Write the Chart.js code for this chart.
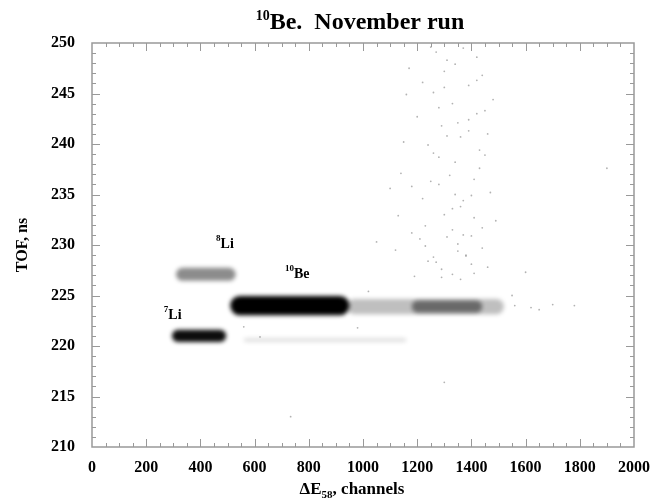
<!DOCTYPE html>
<html>
<head>
<meta charset="utf-8">
<script src="https://cdn.jsdelivr.net/npm/chart.js@4"></script>
<style>
  html, body { margin: 0; background: #fff; }
  #wrap { width: 653px; height: 502px; }
</style>
</head>
<body>
<div id="wrap"><canvas id="tof"></canvas></div>
<script>
/* TOF vs ΔE58 identification spectrum, 10Be November run. */

// axis ranges and ticks
const X_MIN = 0, X_MAX = 2000, X_STEP = 200, X_MINOR = 50;
const Y_MIN = 210, Y_MAX = 250, Y_STEP = 5, Y_MINOR = 1;

// dense groups: centre (channels, ns), half extent, darkness
const groupNames = ['7Li', '7Li tail', '8Li', '10Be', '10Be tail', '10Be tail core'];
const groupX     = [395, 860, 420, 730, 1230, 1310];
const groupY     = [221.0, 220.6, 227.1, 224.0, 223.9, 223.9];
const groupHalfX = [100, 300, 110, 220, 290, 130];
const groupHalfY = [0.6, 0.2, 0.65, 0.95, 0.75, 0.6];
const groupDark  = [0.95, 0.12, 0.45, 1.0, 0.25, 0.45];

// isolated events (channels, ns)
const eventX = [1120, 1180, 1240, 1300, 1350, 1410, 1460, 1150, 1220, 1280, 1330, 1390, 1440, 1490,
                1170, 1260, 1320, 1380, 1430, 1200, 1290, 1360, 1420, 1470, 1140, 1230, 1310, 1400,
                1450, 1190, 1270, 1340, 1410, 1160, 1250, 1330, 1390, 1460, 1210, 1300, 1370, 1440,
                1130, 1240, 1350, 1430, 1180, 1280, 1400, 1310, 1220, 1360, 1480, 1260, 1340,
                1560, 1620, 1700, 1650, 1780, 1900, 1100, 1050, 980, 1020, 733, 1300, 560, 620, 1550, 1600,
                1370, 1420, 1290, 1250, 1450, 1330, 1270, 1350, 1410, 1310, 1380, 1230, 1440, 1290,
                1330, 1400, 1260, 1360, 1420, 1300, 1340, 1390, 1280, 1370];
const eventY = [229.5, 231.2, 228.4, 233.0, 230.1, 236.5, 227.8, 240.2, 234.6, 238.7, 244.0, 241.3, 246.8, 232.4,
                247.5, 245.1, 236.9, 229.0, 239.4, 242.7, 227.6, 233.8, 248.6, 235.2, 237.1, 231.9, 240.8, 228.1,
                243.3, 226.9, 249.1, 238.2, 232.7, 244.9, 236.3, 227.1, 245.8, 241.0, 230.6, 247.2, 234.4, 229.7,
                232.9, 239.9, 242.1, 237.6, 235.8, 243.6, 230.9, 248.3, 246.1, 226.6, 244.4, 228.8, 235.0,
                224.0, 223.8, 224.1, 223.6, 224.0, 237.6, 235.6, 230.3, 221.8, 225.4, 213.0, 216.4, 221.9, 220.9, 225.0, 227.3,
                249.5, 246.3, 241.8, 249.6, 238.9, 231.5, 228.3, 229.4, 227.2, 230.8, 228.9, 229.9, 231.7, 226.8,
                233.6, 234.9, 239.1, 240.7, 243.0, 245.6, 247.9, 242.4, 236.0, 231.0];

// species labels: mass number, symbol, anchor (channels, ns)
const tagMass = ['8', '10', '7'];
const tagName = ['Li', 'Be', 'Li'];
const tagX    = [458, 712, 265];
const tagY    = [229.7, 226.7, 222.7];

const SERIF = '"Liberation Serif", "Times New Roman", serif';
const FRAME = '#999';

const events = eventX.map((x, i) => ({ x, y: eventY[i] }));

/* blurred capsules for the dense groups, in data space */
const groupPlugin = {
  id: 'groups',
  beforeDatasetsDraw(chart) {
    const { ctx, chartArea, scales } = chart;
    ctx.save();
    ctx.beginPath();
    ctx.rect(chartArea.left, chartArea.top, chartArea.width, chartArea.height);
    ctx.clip();
    groupNames.forEach((_, i) => {
      const x0 = scales.x.getPixelForValue(groupX[i] - groupHalfX[i]);
      const x1 = scales.x.getPixelForValue(groupX[i] + groupHalfX[i]);
      const y0 = scales.y.getPixelForValue(groupY[i] + groupHalfY[i]);
      const y1 = scales.y.getPixelForValue(groupY[i] - groupHalfY[i]);
      const h = y1 - y0;
      ctx.filter = 'blur(2px)';
      ctx.fillStyle = `rgba(0,0,0,${groupDark[i]})`;
      ctx.beginPath();
      ctx.roundRect(x0, y0, x1 - x0, h, h / 2);
      ctx.fill();
    });
    ctx.restore();
  },
};

/* grey frame with inward major/minor ticks on all four sides */
const framePlugin = {
  id: 'frame',
  afterDatasetsDraw(chart) {
    const { ctx, chartArea: a, scales } = chart;
    ctx.save();
    ctx.strokeStyle = FRAME;
    ctx.lineWidth = 1.5;
    ctx.strokeRect(a.left, a.top, a.width, a.height);
    ctx.lineWidth = 1;
    ctx.beginPath();
    for (let v = X_MIN + X_MINOR; v < X_MAX; v += X_MINOR) {
      const x = Math.round(scales.x.getPixelForValue(v)) + 0.5;
      const len = v % X_STEP === 0 ? 8 : 4;
      ctx.moveTo(x, a.bottom); ctx.lineTo(x, a.bottom - len);
      ctx.moveTo(x, a.top); ctx.lineTo(x, a.top + len);
    }
    for (let v = Y_MIN + Y_MINOR; v < Y_MAX; v += Y_MINOR) {
      const y = Math.round(scales.y.getPixelForValue(v)) + 0.5;
      const len = v % Y_STEP === 0 ? 8 : 4;
      ctx.moveTo(a.left, y); ctx.lineTo(a.left + len, y);
      ctx.moveTo(a.right, y); ctx.lineTo(a.right - len, y);
    }
    ctx.stroke();
    ctx.restore();
  },
};

/* draw a run of [text, size, rise] pieces starting at x */
function drawPieces(ctx, pieces, x, y) {
  pieces.forEach(([t, size, rise]) => {
    ctx.font = `bold ${size}px ${SERIF}`;
    ctx.fillText(t, x, y - rise);
    x += ctx.measureText(t).width;
  });
}
function piecesWidth(ctx, pieces) {
  return pieces.reduce((w, [t, size]) => {
    ctx.font = `bold ${size}px ${SERIF}`;
    return w + ctx.measureText(t).width;
  }, 0);
}

const textPlugin = {
  id: 'texts',
  afterDraw(chart) {
    const { ctx, chartArea: a, scales } = chart;
    ctx.save();
    ctx.fillStyle = '#000';
    ctx.textAlign = 'left';
    ctx.textBaseline = 'alphabetic';

    // title
    const title = [['10', 14, 9], ['Be.  November run', 24, 0]];
    drawPieces(ctx, title, 360 - piecesWidth(ctx, title) / 2, 29);

    // x axis title with subscript
    const xt = [['\u0394E', 17, 0], ['58', 11, -4], [', channels', 17, 0]];
    drawPieces(ctx, xt, 352 - piecesWidth(ctx, xt) / 2, 494);

    // y axis title
    ctx.save();
    ctx.translate(27, (a.top + a.bottom) / 2);
    ctx.rotate(-Math.PI / 2);
    ctx.font = `bold 16px ${SERIF}`;
    ctx.textAlign = 'center';
    ctx.fillText('TOF, ns', 0, 0);
    ctx.restore();

    // species tags
    tagMass.forEach((m, i) => {
      const x = scales.x.getPixelForValue(tagX[i]);
      const y = scales.y.getPixelForValue(tagY[i]);
      drawPieces(ctx, [[m, 9, 7], [tagName[i], 14, 0]], x, y);
    });
    ctx.restore();
  },
};

const tickFont = { family: SERIF, size: 16, weight: 'bold' };

new Chart(document.getElementById('tof').getContext('2d'), {
  type: 'scatter',
  plugins: [groupPlugin, framePlugin, textPlugin],
  data: {
    datasets: [{
      label: 'events',
      data: events,
      pointRadius: 0.9,
      pointBorderWidth: 0,
      backgroundColor: 'rgba(0,0,0,0.3)',
    }],
  },
  options: {
    responsive: true,
    maintainAspectRatio: false,
    devicePixelRatio: 1,
    animation: false,
    layout: { padding: { top: 43, right: 17, bottom: 0, left: 0 } },
    scales: {
      x: {
        type: 'linear',
        min: X_MIN, max: X_MAX,
        ticks: { stepSize: X_STEP, color: '#000', font: tickFont, padding: 3, maxRotation: 0, callback: v => String(v) },
        grid: { display: false },
        border: { display: false },
        afterFit: s => { s.height = 55; },
      },
      y: {
        min: Y_MIN, max: Y_MAX,
        ticks: { stepSize: Y_STEP, color: '#000', font: tickFont, padding: 9, callback: v => String(v) },
        grid: { display: false },
        border: { display: false },
        afterFit: s => { s.width = 92; },
      },
    },
    plugins: {
      legend: { display: false },
      tooltip: { enabled: false },
    },
  },
});
</script>
</body>
</html>
